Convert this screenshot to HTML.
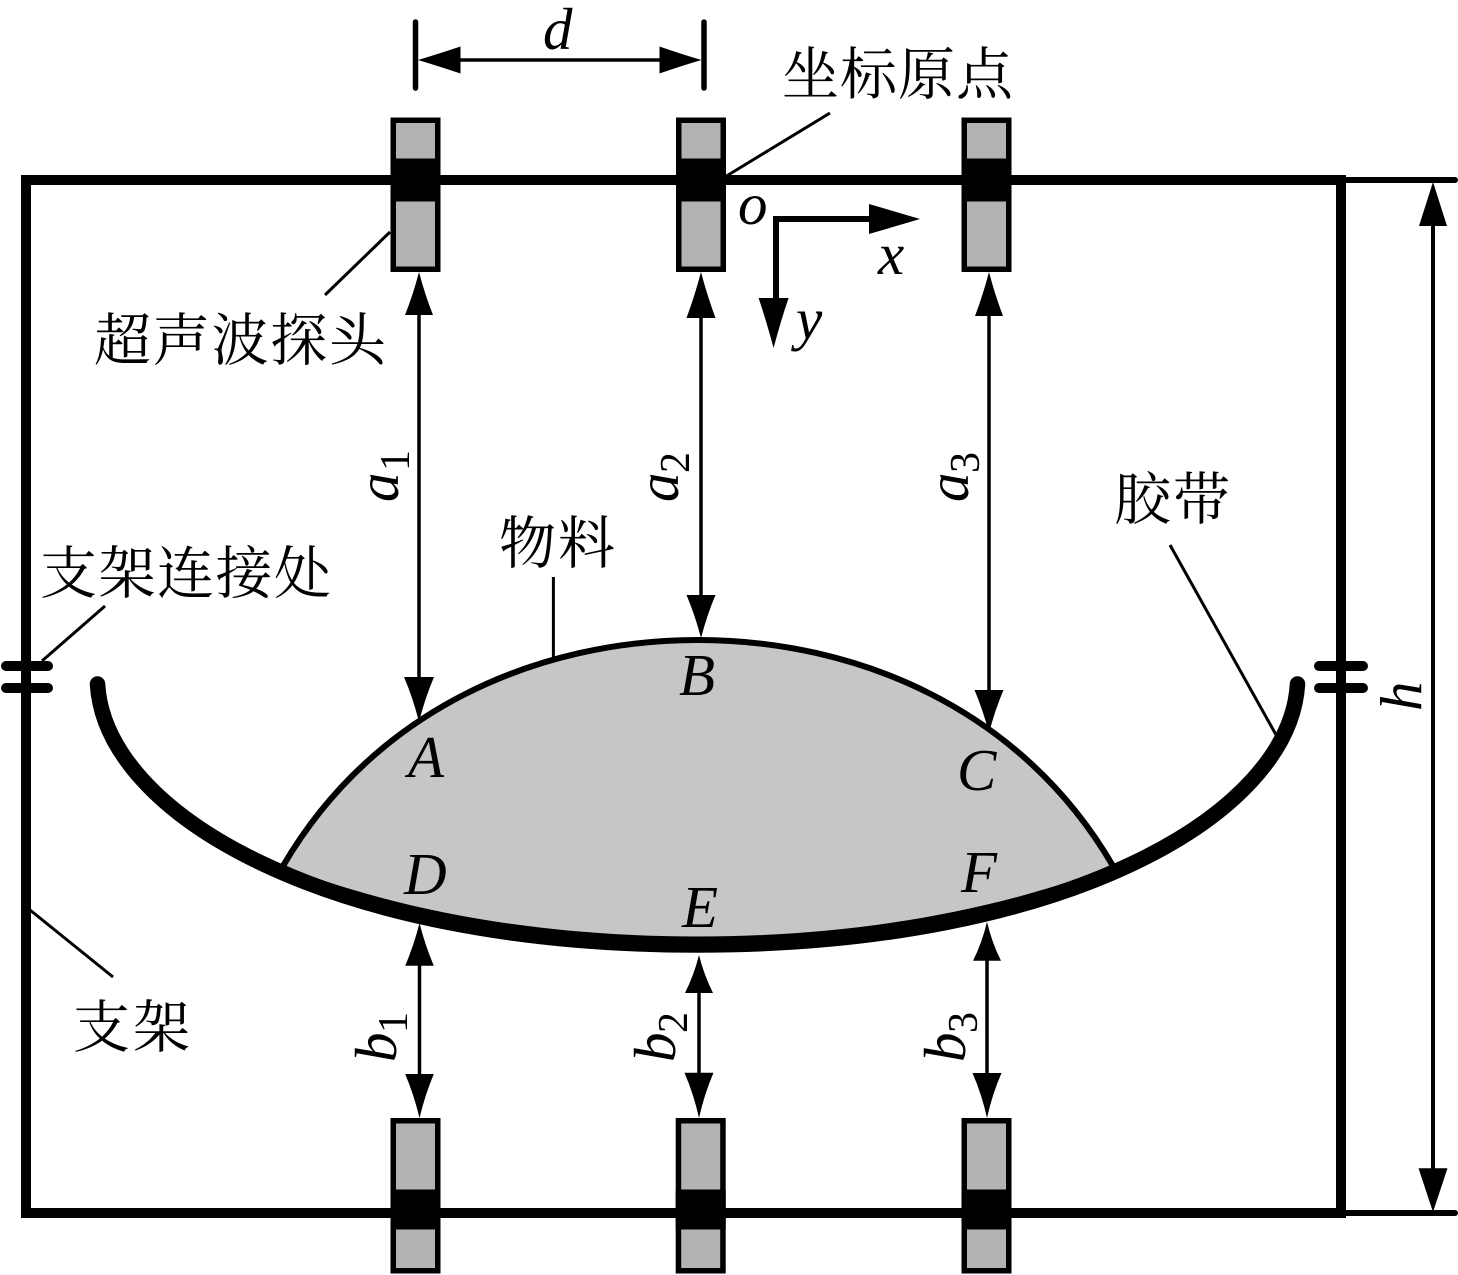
<!DOCTYPE html>
<html><head><meta charset="utf-8"><style>
html,body{margin:0;padding:0;background:#fff}
svg{display:block}
.c{font-family:"Liberation Serif","Noto Serif CJK SC",serif;font-size:57px;fill:#000}
.i{font-family:"Liberation Serif",serif;font-style:italic;font-size:59px;fill:#000}
.s{font-family:"Liberation Serif",serif;font-size:42px;fill:#000}
</style></head><body>
<svg width="1458" height="1275" viewBox="0 0 1458 1275" xmlns="http://www.w3.org/2000/svg">
<rect width="1458" height="1275" fill="#fff"/>
<!-- frame -->
<rect x="26" y="180" width="1315" height="1033" fill="none" stroke="#000" stroke-width="10"/>
<g stroke="#000" stroke-width="10" stroke-linecap="round" fill="none">
<path d="M6 666H48M6 688H48M1319 666H1363M1319 688H1363"/>
</g>
<g stroke="#000" stroke-width="6" stroke-linecap="round" fill="none">
<path d="M1341 180H1455M1341 1213H1455"/>
</g>
<!-- material -->
<path d="M283 866C375 708 540 640 698 640C856 640 1021 708 1113 866C950 925 830 945 698 945C566 945 446 925 283 866Z" fill="#c6c6c6"/>
<path d="M283 866C375 708 540 640 698 640C856 640 1021 708 1113 866" fill="none" stroke="#000" stroke-width="6"/>
<!-- belt -->
<path d="M97.5 684C105 815 330 945 697.5 945C1065 945 1290 815 1297.5 684" fill="none" stroke="#000" stroke-width="15.5" stroke-linecap="round"/>
<path d="M281 863L297 871C420 917 560 936.500 697.500 936.500C835 936.500 975 917 1099 871L1115 863L1113 875C975 935 835 945 697.500 945C560 945 420 935 283 875Z" fill="#000"/>
<!-- sensors -->
<g>
<g transform="translate(390.5,0)"><rect x="2.75" y="120.25" width="44.5" height="149" fill="#b3b3b3" stroke="#000" stroke-width="5.5"/><rect y="158.5" width="50" height="43" fill="#000"/></g>
<g transform="translate(676,0)"><rect x="2.75" y="120.25" width="44.5" height="149" fill="#b3b3b3" stroke="#000" stroke-width="5.5"/><rect y="158.5" width="50" height="43" fill="#000"/></g>
<g transform="translate(961.5,0)"><rect x="2.75" y="120.25" width="44.5" height="149" fill="#b3b3b3" stroke="#000" stroke-width="5.5"/><rect y="158.5" width="50" height="43" fill="#000"/></g>
<g transform="translate(390.5,0)"><rect x="2.75" y="1120.75" width="44.5" height="150" fill="#b3b3b3" stroke="#000" stroke-width="5.5"/><rect y="1189.5" width="50" height="40" fill="#000"/></g>
<g transform="translate(675.7,0)"><rect x="2.75" y="1120.75" width="44.5" height="150" fill="#b3b3b3" stroke="#000" stroke-width="5.5"/><rect y="1189.5" width="50" height="40" fill="#000"/></g>
<g transform="translate(961.5,0)"><rect x="2.75" y="1120.75" width="44.5" height="150" fill="#b3b3b3" stroke="#000" stroke-width="5.5"/><rect y="1189.5" width="50" height="40" fill="#000"/></g>
</g>
<!-- dimension d -->
<g stroke="#000" stroke-linecap="round" fill="none">
<path d="M415.5 22V88M704 22V88" stroke-width="5.5"/>
<path d="M440 60H680" stroke-width="3.5"/>
</g>
<path d="M418 60Q438 54 460.5 46.5V73.5Q438 66 418 60ZM701.5 60Q681 54 659.5 46.5V73.5Q681 66 701.5 60Z" fill="#000"/>
<!-- vertical arrows -->
<g stroke="#000" stroke-width="3.5" fill="none">
<path d="M419 300V700M701 300V610M989 300V705M419.5 950V1090M699 980V1090M987 945V1090"/>
<path d="M1433 215V1180" stroke-width="4"/>
</g>
<g fill="#000">
<path d="M419 272Q425 295 433 315H405Q413 295 419 272Z"/>
<path d="M701 272Q707 295 715.500 318H686.500Q695 295 701 272Z"/>
<path d="M989 272Q995 295 1003 316H975Q983 295 989 272Z"/>
<path d="M419 722Q425 698 434 677H404Q413 698 419 722Z"/>
<path d="M701 638Q707 615 715.500 595H686.500Q695 615 701 638Z"/>
<path d="M989 733Q995 710 1003.500 690H974.500Q983 710 989 733Z"/>
<path d="M419.500 923Q425 945 433.800 965.700H405.200Q414 945 419.500 923Z"/>
<path d="M699 955Q704 975 713 993H685Q694 975 699 955Z"/>
<path d="M987 921.700Q992 943 1001 960.700H973Q982 943 987 921.700Z"/>
<path d="M419.500 1118Q425 1095 433.800 1074H405.200Q414 1095 419.500 1118Z"/>
<path d="M699 1118Q704 1095 713.500 1072.700H684.500Q694 1095 699 1118Z"/>
<path d="M987 1118Q992 1095 1001.500 1073H972.500Q982 1095 987 1118Z"/>
<path d="M1433 182L1447 226H1419Z"/>
<path d="M1433 1212L1447.500 1168.300H1418.500Z"/>
</g>
<!-- axes -->
<path d="M880 219H776V305" fill="none" stroke="#000" stroke-width="6"/>
<path d="M920 219Q893 211 869 204V234Q893 227 920 219Z" fill="#000"/>
<path d="M773.600 348Q766 320 758.600 298H788.600Q781 320 773.600 348Z" fill="#000"/>
<!-- leaders -->
<g stroke="#000" stroke-width="3" fill="none">
<path d="M726.500 176L830 113"/>
<path d="M390 232L325 295"/>
<path d="M42 661L105 606"/>
<path d="M30 910L113 977"/>
<path d="M553.400 577V658"/>
<path d="M1170 545L1276.700 736"/>
</g>
<!-- CJK text -->
<text class="c" x="782" y="94" textLength="231">坐标原点</text>
<text class="c" x="94" y="360" textLength="292">超声波探头</text>
<text class="c" x="40" y="593" textLength="291">支架连接处</text>
<text class="c" x="499" y="563" textLength="116">物料</text>
<text class="c" x="1114" y="519" textLength="116">胶带</text>
<text class="c" x="73" y="1047" textLength="117">支架</text>
<!-- latin -->
<text class="i" x="543" y="49">d</text>
<text class="i" x="738" y="224">o</text>
<text class="i" x="878" y="274">x</text>
<text class="i" x="796" y="339">y</text>
<text class="i" x="408" y="777">A</text>
<text class="i" x="679" y="695">B</text>
<text class="i" x="957" y="790">C</text>
<text class="i" x="404" y="894">D</text>
<text class="i" x="682" y="927">E</text>
<text class="i" x="961" y="892">F</text>
<g transform="translate(398,502) rotate(-90)"><text class="i" x="0" y="0">a</text><text class="s" x="31" y="11">1</text></g>
<g transform="translate(678,502) rotate(-90)"><text class="i" x="0" y="0">a</text><text class="s" x="29" y="11">2</text></g>
<g transform="translate(968,502) rotate(-90)"><text class="i" x="0" y="0">a</text><text class="s" x="29" y="11">3</text></g>
<g transform="translate(396,1062) rotate(-90)"><text class="i" x="0" y="0">b</text><text class="s" x="29" y="11">1</text></g>
<g transform="translate(675,1062) rotate(-90)"><text class="i" x="0" y="0">b</text><text class="s" x="29" y="12">2</text></g>
<g transform="translate(965,1062) rotate(-90)"><text class="i" x="0" y="0">b</text><text class="s" x="29" y="12">3</text></g>
<g transform="translate(1421,711) rotate(-90)"><text class="i" x="0" y="0">h</text></g>
</svg>
</body></html>
